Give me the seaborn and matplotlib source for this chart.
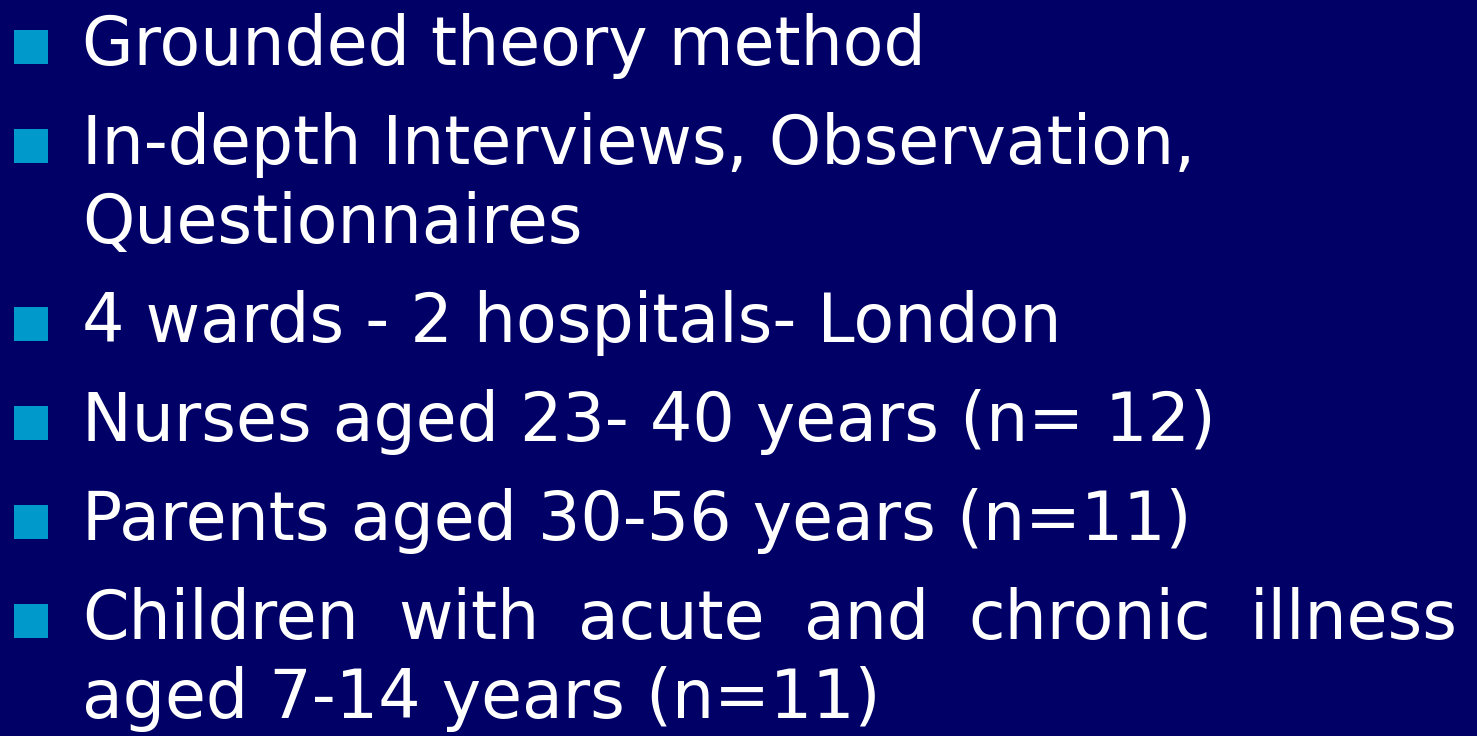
import matplotlib
matplotlib.use('Agg')
import matplotlib.pyplot as plt
import seaborn as sns
import pandas as pd

# slide content: one entry per bullet, wrapped lines kept as separate strings
items = [
    ['Grounded theory method'],
    ['In-depth Interviews, Observation,', 'Questionnaires'],
    ['4 wards - 2 hospitals- London'],
    ['Nurses aged 23- 40 years (n= 12)'],
    ['Parents aged 30-56 years (n=11)'],
    ['Children with acute and chronic illness', 'aged 7-14 years (n=11)'],
]
justified = [False, False, False, False, False, True]

BG = '#000066'
BULLET = '#0099cc'
W, H = 1477, 736

sns.set_style('white')
plt.rcParams['font.family'] = ['DejaVu Sans']

fig = plt.figure(figsize=(W / 100, H / 100), dpi=100, facecolor=BG)
ax = fig.add_axes([0, 0, 1, 1])
ax.set_facecolor(BG)
ax.set_xlim(0, W)
ax.set_ylim(H, 0)
ax.axis('off')

fs = 48
x_text = 82
right_edge = 1458
first_base = 65
bullet_gap = 99
wrap_gap = 79

renderer = fig.canvas.get_renderer()

rows = []
y = first_base
for lines, just in zip(items, justified):
    rows.append({'x': 31, 'y': y - 18})
    for k, line in enumerate(lines):
        if just and k < len(lines) - 1:
            # justified line: spread the words across the full width
            words = line.split(' ')
            arts = [ax.text(0, y, w, color='white', fontsize=fs, va='baseline', ha='left') for w in words]
            widths = [a.get_window_extent(renderer).width for a in arts]
            gap = (right_edge - x_text - sum(widths)) / (len(words) - 1)
            xx = x_text
            for a, wd in zip(arts, widths):
                a.set_x(xx)
                xx += wd + gap
        else:
            ax.text(x_text, y, line, color='white', fontsize=fs, va='baseline', ha='left')
        if k < len(lines) - 1:
            y += wrap_gap
    y += bullet_gap

bullets = pd.DataFrame(rows)
sns.scatterplot(data=bullets, x='x', y='y', marker='s', s=33 ** 2 * 0.52,
                color=BULLET, edgecolor='none', linewidth=0, ax=ax, legend=False)

fig.savefig('out.png', dpi=100, facecolor=BG)
